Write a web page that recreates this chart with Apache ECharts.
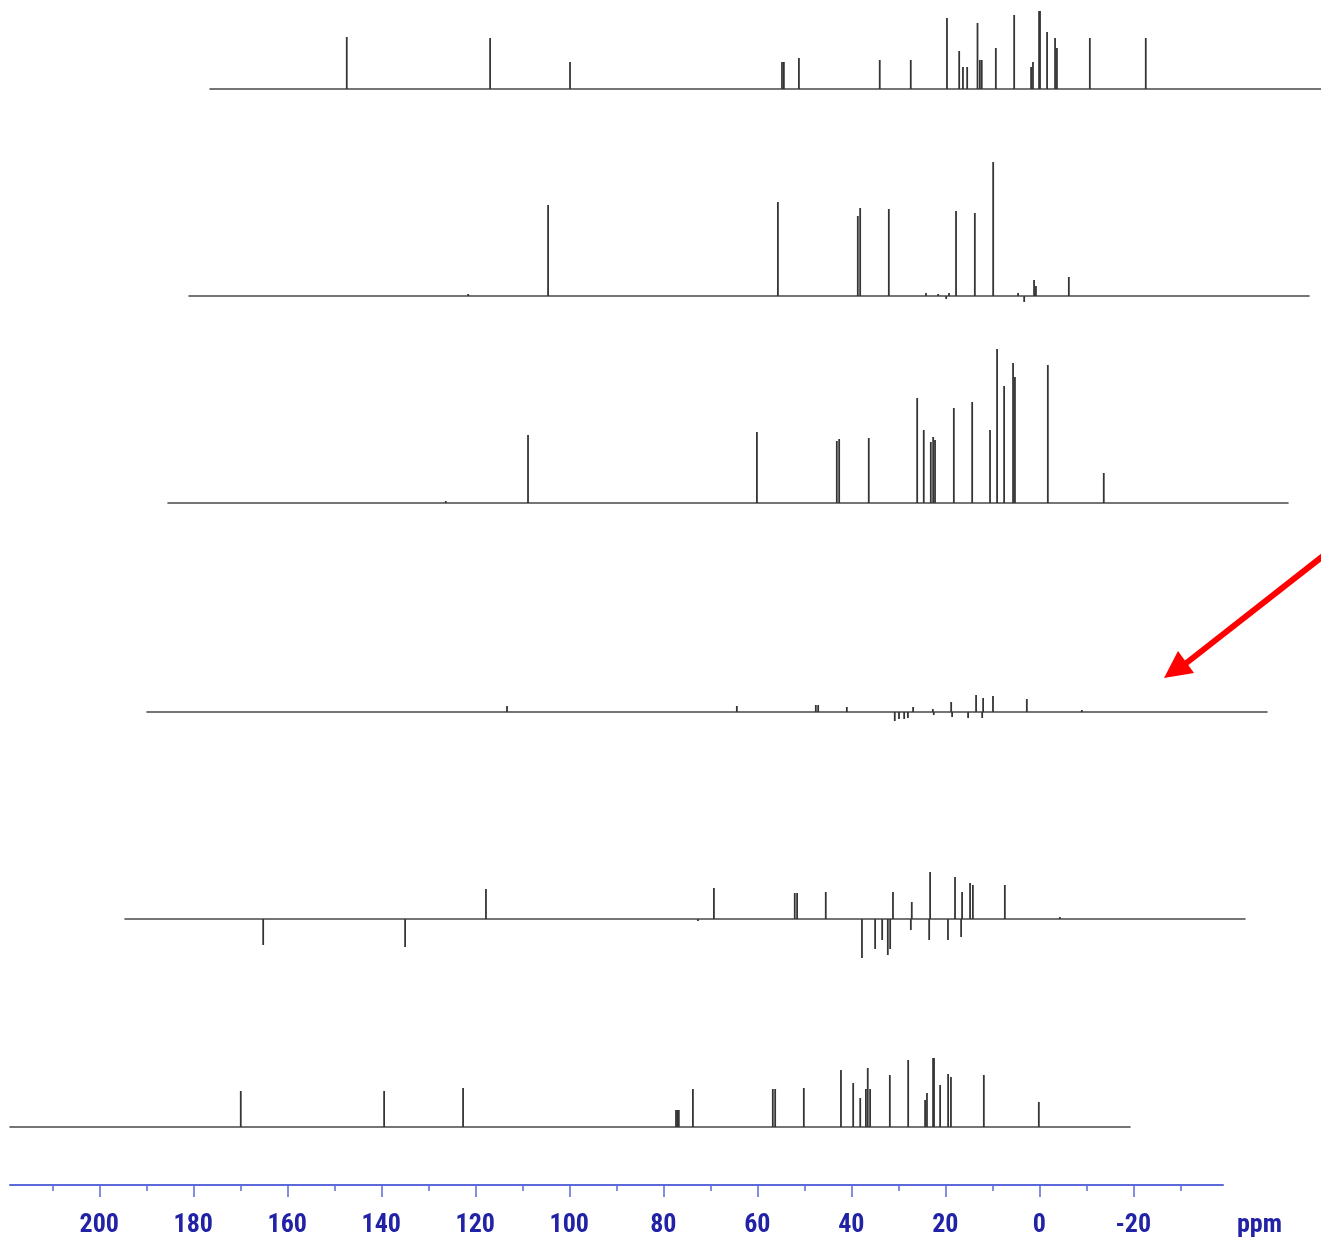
<!DOCTYPE html>
<html>
<head>
<meta charset="utf-8">
<title>13C NMR stacked spectra</title>
<script src="https://cdn.jsdelivr.net/npm/echarts@6/dist/echarts.min.js"></script>
<style>
  html, body { margin: 0; padding: 0; background: #ffffff; }
  #chart { width: 1321px; height: 1241px; }
</style>
</head>
<body>
<div id="chart"></div>
<script>
// Chemical-shift scale (ppm). Every trace starts at the same ppm value on
// its left end; the stacked traces are shifted right to give the oblique stack.
const PPM_LEFT = 219;
const PX_PER_PPM = 4.7;

const axisMajor = [200, 180, 160, 140, 120, 100, 80, 60, 40, 20, 0, -20];
const axisMinor = [210, 190, 170, 150, 130, 110, 90, 70, 50, 30, 10, -10, -30];

// Peaks: [shift (ppm), intensity]; negative intensity = inverted signal
const spectrum1 = [
  [189.9, 52], [159.4, 51], [142.4, 27], [97.3, 27], [96.9, 27], [93.7, 31],
  [76.5, 29], [69.9, 29], [62.2, 71], [59.6, 38], [58.8, 22], [57.9, 22],
  [55.7, 66], [55.2, 29], [54.8, 29], [51.8, 41], [47.9, 74], [44.3, 22],
  [43.9, 27], [42.6, 78], [42.4, 78], [40.9, 57], [39.2, 51], [38.8, 41],
  [31.8, 51], [19.9, 51]
];

const spectrum2 = [
  [159.6, 2], [142.6, 91], [93.7, 94], [76.7, 80], [76.2, 88], [70.1, 87],
  [62.2, 3], [59.6, 2], [57.9, -3], [57.3, 3], [55.8, 85], [51.8, 83],
  [47.9, 134], [42.6, 3], [41.3, -6], [39.2, 16], [38.8, 10], [31.8, 19]
];

const spectrum3 = [
  [159.9, 2], [142.4, 68], [93.7, 71], [76.7, 62], [76.2, 64], [69.9, 65],
  [59.6, 105], [58.2, 73], [56.7, 61], [56.2, 66], [55.8, 63], [51.8, 95],
  [47.9, 101], [44.1, 73], [42.6, 154], [41.1, 117], [39.2, 140], [38.8, 126],
  [31.8, 138], [19.9, 30]
];

const spectrum4 = [
  [142.4, 6], [93.5, 6], [76.7, 7], [76.2, 7], [70.1, 5], [59.9, -9],
  [59.0, -7], [57.9, -7], [57.1, -6], [56.0, 5], [51.8, 3], [51.6, -3],
  [47.9, 10], [47.7, -5], [44.3, -6], [42.6, 17], [41.3, -6], [41.1, 14],
  [39.0, 16], [31.8, 13], [20.1, 2]
];

const spectrum5 = [
  [189.6, -26], [159.4, -28], [142.2, 30], [97.1, -2], [93.7, 31], [76.5, 26],
  [76.0, 26], [69.9, 27], [62.2, -39], [59.4, -30], [57.9, -21], [56.7, -36],
  [56.2, -30], [55.6, 27], [51.8, -11], [51.6, 17], [47.9, -21], [47.7, 47],
  [43.9, -21], [42.4, 42], [41.1, -18], [40.9, 27], [39.2, 36], [38.6, 34],
  [31.8, 34], [20.1, 2]
];

const spectrum6 = [
  [169.9, 36], [139.4, 36], [122.6, 39], [77.3, 17], [77.0, 17], [76.7, 17],
  [73.7, 38], [56.7, 38], [56.2, 38], [50.1, 39], [42.2, 57], [39.6, 44],
  [38.1, 29], [36.9, 38], [36.5, 59], [36.0, 38], [31.8, 52], [27.9, 67],
  [24.3, 27], [23.9, 34], [22.6, 69], [22.4, 69], [21.1, 42], [19.4, 53],
  [18.8, 50], [11.8, 52], [0.1, 25]
];

const spectra = [spectrum1, spectrum2, spectrum3, spectrum4, spectrum5, spectrum6];

// Placement of each trace on the page: left end of baseline, baseline y,
// room above and below the baseline (in intensity units = px)
const traceLayout = [
  { left: 210, base: 89,   up: 85,  down: 10 },
  { left: 189, base: 296,  up: 140, down: 12 },
  { left: 168, base: 503,  up: 160, down: 10 },
  { left: 147, base: 712,  up: 30,  down: 14 },
  { left: 125, base: 919,  up: 60,  down: 45 },
  { left: 10,  base: 1127, up: 75,  down: 10 }
];
const PAGE_WIDTH = 1321;
const TRACE_WIDTH = 1120;
const AXIS_LEFT = 10;
const AXIS_WIDTH = 1213;

const AXIS_BLUE = '#5b6ad8';
const LABEL_BLUE = '#2222a6';
const LABEL_FONT = "'Roboto Condensed', 'DejaVu Sans Condensed', sans-serif";

const grid = [];
const xAxis = [];
const yAxis = [];
const series = [];

spectra.forEach((peaks, i) => {
  const L = traceLayout[i];
  // a trace running past the right page edge is cut there, keeping the ppm scale
  const width = Math.min(TRACE_WIDTH, PAGE_WIDTH - L.left);
  grid.push({ left: L.left, width: width, top: L.base - L.up, height: L.up + L.down });
  xAxis.push({
    gridIndex: i, type: 'value', inverse: true,
    min: PPM_LEFT - width / PX_PER_PPM, max: PPM_LEFT,
    axisLine: { show: true, onZero: true, lineStyle: { color: '#484848', width: 1.6 } },
    axisTick: { show: false }, axisLabel: { show: false }, splitLine: { show: false }
  });
  yAxis.push({ gridIndex: i, type: 'value', min: -L.down, max: L.up, show: false });
  series.push({
    type: 'custom',
    xAxisIndex: i, yAxisIndex: i,
    data: peaks,
    encode: { x: 0, y: 1 },
    silent: true,
    renderItem: function (params, api) {
      const p0 = api.coord([api.value(0), 0]);
      const p1 = api.coord([api.value(0), api.value(1)]);
      return {
        type: 'line',
        shape: { x1: p0[0], y1: p0[1], x2: p1[0], y2: p1[1] },
        style: { stroke: '#353535', lineWidth: 1.8 }
      };
    }
  });
});

// Shared ppm axis at the bottom
const axisGrid = grid.length;
grid.push({ left: AXIS_LEFT, width: AXIS_WIDTH, top: 1150, height: 35 });
yAxis.push({ gridIndex: axisGrid, type: 'value', min: 0, max: 1, show: false });
xAxis.push({
  gridIndex: axisGrid, type: 'value', inverse: true, position: 'bottom',
  min: PPM_LEFT - AXIS_WIDTH / PX_PER_PPM, max: PPM_LEFT,
  axisLine: { show: true, onZero: false, lineStyle: { color: AXIS_BLUE, width: 2 } },
  axisTick: { show: true, customValues: axisMajor, length: 12, lineStyle: { color: AXIS_BLUE, width: 1.5 } },
  axisLabel: {
    show: true, customValues: axisMajor, margin: 27,
    color: LABEL_BLUE, fontSize: 26, fontWeight: 'bold', fontFamily: LABEL_FONT
  },
  splitLine: { show: false }
});
xAxis.push({
  gridIndex: axisGrid, type: 'value', inverse: true, position: 'bottom',
  min: PPM_LEFT - AXIS_WIDTH / PX_PER_PPM, max: PPM_LEFT,
  axisLine: { show: false, onZero: false },
  axisTick: { show: true, customValues: axisMinor, length: 6, lineStyle: { color: AXIS_BLUE, width: 1.5 } },
  axisLabel: { show: false },
  splitLine: { show: false }
});

const chart = echarts.init(document.getElementById('chart'), null, { renderer: 'canvas' });
chart.setOption({
  backgroundColor: '#ffffff',
  animation: false,
  grid: grid,
  xAxis: xAxis,
  yAxis: yAxis,
  series: series,
  graphic: [
    {
      type: 'text', left: 1237, top: 1212,
      style: { text: 'ppm', fill: LABEL_BLUE, font: "bold 26px " + LABEL_FONT }
    },
    {
      type: 'group',
      children: [
        {
          type: 'line',
          shape: { x1: 1323, y1: 556, x2: 1180, y2: 668 },
          style: { stroke: '#ff0000', lineWidth: 6 }
        },
        {
          type: 'polygon',
          shape: { points: [[1164, 678], [1178, 651], [1194, 673]] },
          style: { fill: '#ff0000' }
        }
      ]
    }
  ]
});
</script>
</body>
</html>
